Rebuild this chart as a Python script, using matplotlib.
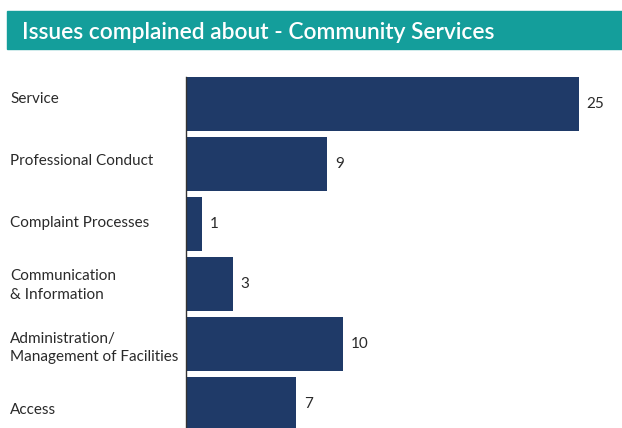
import matplotlib
matplotlib.use("Agg")
import matplotlib.pyplot as plt
from matplotlib.patches import Rectangle

# Categories and counts
categories = [
    "Service",
    "Professional Conduct",
    "Complaint Processes",
    "Communication\n& Information",
    "Administration/\nManagement of Facilities",
    "Access",
]
counts = [25, 9, 1, 3, 10, 7]
title = "Issues complained about - Community Services"

bar_color = "#1f3a68"
teal = "#149e9b"
text_color = "#2a2a2a"

plt.rcParams['font.family'] = ['Lato', 'DejaVu Sans']

W, H = 622, 428
fig = plt.figure(figsize=(W / 100, H / 100), dpi=100)

# Title banner
fig.patches.append(Rectangle((7 / W, 1 - 49 / H), 1, 38 / H,
                             transform=fig.transFigure, color=teal, zorder=0))
fig.text(22 / W, 1 - 39 / H, title, color="white", fontsize=16.4,
         fontweight="semibold", va="baseline", ha="left")

# Bars
ax = fig.add_axes([186 / W, 0, 393 / W, 351 / H])
y = list(range(len(categories)))
ax.barh(y, counts, height=0.9, color=bar_color)
ax.set_xlim(0, 25)
ax.set_ylim(5.4, -0.45)

for yi, c in zip(y, counts):
    ax.annotate(str(c), (c, yi), xytext=(5.5, 0), textcoords="offset points",
                va="center", ha="left", fontsize=11, color=text_color,
                annotation_clip=False)

ax.set_yticks([])
ax.set_xticks([])
for s in ["top", "right", "bottom"]:
    ax.spines[s].set_visible(False)
ax.spines["left"].set_color("#333333")
ax.spines["left"].set_linewidth(1.0)

# Category labels, spaced a little wider than the bars
lax = fig.add_axes([0, 0, 186 / W, 351 / H])
lax.set_ylim(5.29, -0.354)
lax.set_xlim(0, 186)
lax.axis("off")
for yi, label in zip(y, categories):
    lax.text(10, yi, label, va="center", ha="left", fontsize=11,
             linespacing=1.4, color=text_color)

fig.savefig("out.png", dpi=100)
